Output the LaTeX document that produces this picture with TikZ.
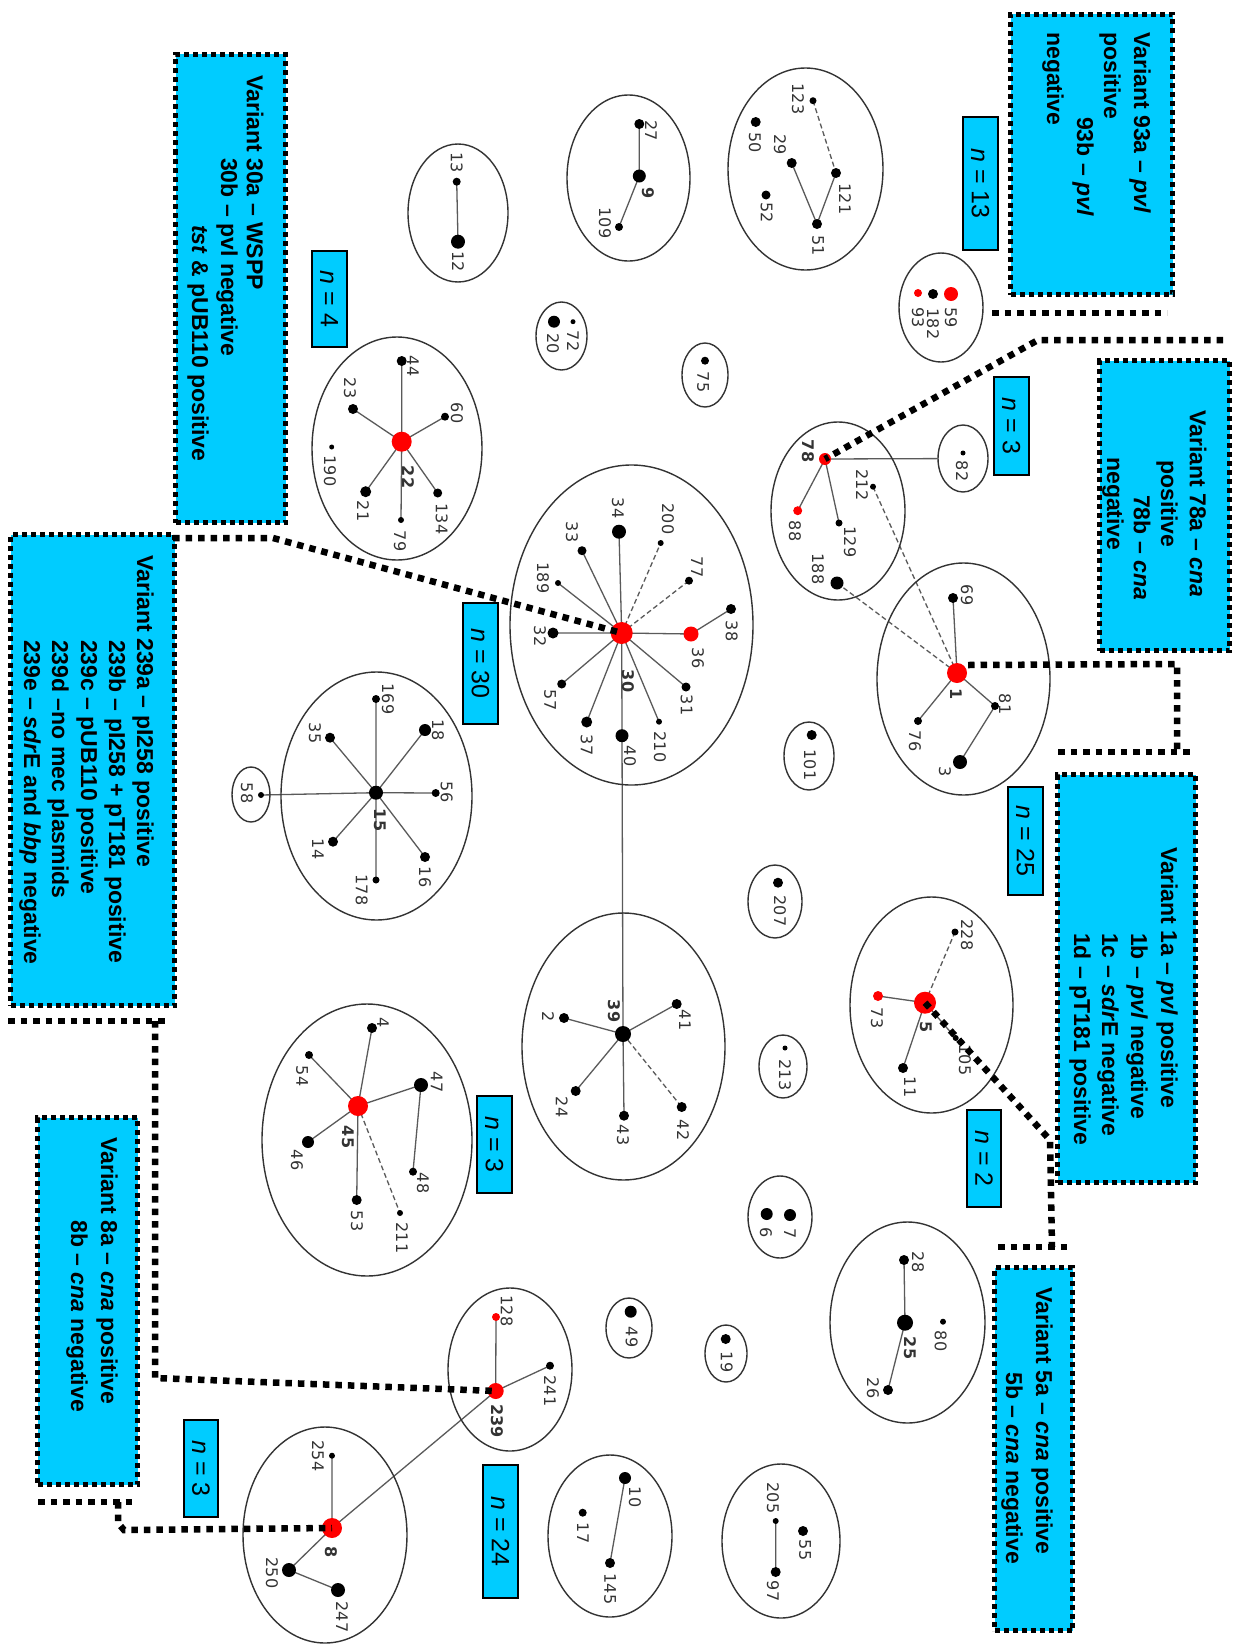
\documentclass[tikz,border=0pt]{standalone}
\usepackage{fontspec}
\setmainfont{Liberation Sans}
\newfontfamily\labfont{DejaVu Sans}
\usetikzlibrary{shapes.geometric}
\pgfdeclarelayer{bglayer}
\pgfdeclarelayer{edgelayer}
\pgfsetlayers{bglayer,edgelayer,main}
\definecolor{cyanbox}{RGB}{0,204,255}
\definecolor{rednode}{RGB}{255,0,0}
\definecolor{edgegray}{RGB}{90,90,90}
\newcommand\V[8]{\node[dot,minimum size=#4pt,fill=#5] (v#1) at (#2,#3) {};\node[lab] (l#1) at (#6,#7) {#8};}
\newcommand\Ell[5]{\node[ell,minimum width=2*#4pt,minimum height=2*#5pt] (e#1) at (#2,#3) {};}
\begin{document}
\begin{tikzpicture}[x=1pt,y=-1pt,
  ell/.style={ellipse, draw=black!80, line width=1.4pt, inner sep=0pt},
  dot/.style={circle, inner sep=0pt},
  lab/.style={rotate=-90, inner sep=0pt, font=\labfont\fontsize{16}{16}\selectfont, text=black!80},
  edge/.style={draw=edgegray, line width=1.3pt},
  dedge/.style={edge, dash pattern=on 5pt off 3pt},
  vbox/.style={fill=cyanbox, draw=black, line width=5pt, dash pattern=on 5pt off 4pt, inner sep=0pt, anchor=north west},
  nbox/.style={fill=cyanbox, draw=black, line width=1.5pt, inner sep=0pt, rotate=-90, font=\fontsize{25}{25}\selectfont},
  vtxt/.style={rotate=-90, anchor=west, inner sep=0pt, font=\bfseries\fontsize{23}{23}\selectfont},
  link/.style={draw=black, line width=6.5pt, dash pattern=on 6.5pt off 6pt},
]
\begin{pgfonlayer}{bglayer}
\fill[white] (0,0) rectangle (1243,1646);
\end{pgfonlayer}
\useasboundingbox (0,0) rectangle (1243,1646);

% ---------- ellipses ----------
\Ell{12}{458}{213}{50}{69}
\Ell{9}{628.5}{178}{61.5}{83}
\Ell{51}{805.5}{169}{77.5}{101}
\Ell{20}{561.5}{336}{25.5}{34}
\Ell{75}{705}{375}{23}{32}
\Ell{59}{941}{307.5}{42}{54.5}
\Ell{22}{397}{448.5}{85}{111.5}
\Ell{30}{631.5}{625}{121.5}{160}
\Ell{78}{838}{511}{67}{89}
\Ell{82}{963}{458.5}{25}{33.5}
\Ell{1}{963.5}{679}{86.5}{116}
\Ell{101}{809}{756}{25}{34}
\Ell{15}{376.5}{796}{95.5}{124}
\Ell{58}{251}{794.5}{19}{27.5}
\Ell{39}{623.5}{1046.5}{101.5}{133.5}
\Ell{207}{775}{901.5}{27}{36.5}
\Ell{213}{783}{1066.5}{24}{31.5}
\Ell{67}{780}{1217}{32}{41}
\Ell{5}{931.5}{1005}{81.5}{108}
\Ell{45}{367}{1140}{105}{136}
\Ell{25}{907.5}{1322.5}{77.5}{100.5}
\Ell{239}{510}{1369.5}{62}{81.5}
\Ell{49}{629}{1328}{23}{30}
\Ell{19}{726}{1353.5}{21}{28.5}
\Ell{10}{610}{1536}{62}{81}
\Ell{205}{781}{1541}{59}{77}
\Ell{8}{325}{1535}{82}{108}

% ---------- vertices ----------
\V{13}{456.7}{181.7}{8}{black}{456.7}{163}{13}
\V{12}{458}{241.7}{14}{black}{458}{262}{12}
\V{27}{639.3}{124}{10}{black}{651}{131}{27}
\V{9}{639.3}{176}{13}{black}{648}{193}{\textbf{9}}
\V{109}{619}{227}{8}{black}{605}{223}{109}
\V{123}{813}{100.7}{7}{black}{798}{99}{123}
\V{50}{755.7}{122}{10}{black}{755}{143}{50}
\V{29}{791.7}{163}{10}{black}{780}{145}{29}
\V{52}{766}{195}{9}{black}{766.7}{213}{52}
\V{51}{817}{224}{10}{black}{818}{246}{51}
\V{121}{836}{173}{10}{black}{845}{199}{121}
\V{20}{554}{321.7}{12}{black}{553}{344}{20}
\V{72}{573}{321.7}{5}{black}{573}{341}{72}
\V{75}{705}{360.7}{8}{black}{703}{382}{75}
\V{59}{951}{294}{14}{rednode}{951}{318}{59}
\V{182}{933}{294}{10}{black}{933}{324}{182}
\V{93}{918}{293}{8}{rednode}{918}{318}{93}
% cluster 22
\V{22}{401.7}{441.7}{20}{rednode}{408}{477}{\textbf{22}}
\V{44}{401.7}{361}{10}{black}{413}{366}{44}
\V{23}{353}{409}{10}{black}{350}{388}{23}
\V{60}{445}{416.7}{8}{black}{457}{413}{60}
\V{190}{331.7}{447}{5}{black}{330}{471}{190}
\V{21}{365.7}{491.7}{11}{black}{363}{511}{21}
\V{79}{401}{520}{6}{black}{400}{541}{79}
\V{134}{437.7}{493}{9}{black}{441.7}{519}{134}
% cluster 30
\V{30}{621.7}{633}{22}{rednode}{628}{681}{\textbf{30}}
\V{34}{619}{531.7}{14}{black}{618}{508}{34}
\V{200}{660.7}{543}{6}{black}{668}{519}{200}
\V{77}{689}{580.7}{8}{black}{697}{567}{77}
\V{38}{731}{609}{10}{black}{731.7}{631}{38}
\V{36}{691}{634}{15}{rednode}{698}{658}{36}
\V{31}{686}{687}{9}{black}{686.7}{705}{31}
\V{210}{659}{721.7}{6}{black}{660}{747}{210}
\V{40}{622}{735.7}{13}{black}{630}{756}{40}
\V{37}{586.7}{722}{11}{black}{586.7}{745}{37}
\V{57}{561.7}{684}{9}{black}{550}{700}{57}
\V{32}{553}{633}{11}{black}{540}{636}{32}
\V{189}{558}{583}{6}{black}{543}{578}{189}
\V{33}{582}{550.7}{9}{black}{572}{532}{33}
% cluster 78
\V{78}{825}{459}{12}{rednode}{808}{451}{\textbf{78}}
\V{88}{797.7}{510.7}{9}{rednode}{795}{531}{88}
\V{212}{873}{486.7}{6}{black}{862}{485}{212}
\V{129}{839}{523}{7}{black}{850}{542}{129}
\V{188}{837}{583}{13}{black}{818}{569}{188}
\V{82}{963}{453}{5}{black}{962}{471}{82}
% cluster 1
\V{1}{957}{673}{20}{rednode}{956}{694}{\textbf{1}}
\V{69}{953}{598}{10}{black}{967}{595}{69}
\V{81}{995}{706}{8}{black}{1005}{704}{81}
\V{76}{918}{721}{8}{black}{915}{741}{76}
\V{3}{960}{762}{14}{black}{945}{772}{3}
\V{101}{811.7}{735}{10}{black}{810}{765}{101}
% cluster 15
\V{15}{376}{792.7}{14}{black}{380}{820}{\textbf{15}}
\V{169}{376}{699}{8}{black}{388}{699}{169}
\V{35}{330}{737.7}{10}{black}{315}{733}{35}
\V{58}{261}{795}{6}{black}{247}{793}{58}
\V{18}{425}{730}{12}{black}{438}{730}{18}
\V{56}{435.7}{793}{8}{black}{446.7}{792}{56}
\V{16}{425}{857}{10}{black}{425}{877}{16}
\V{178}{376}{880}{7}{black}{361.7}{890}{178}
\V{14}{333}{841.7}{10}{black}{318}{849}{14}
% cluster 39
\V{39}{623}{1034}{16}{black}{614}{1011}{\textbf{39}}
\V{41}{676.7}{1004}{10}{black}{685}{1020}{41}
\V{2}{564}{1018}{10}{black}{548}{1017}{2}
\V{24}{575.7}{1091}{10}{black}{561.7}{1107}{24}
\V{43}{624}{1115.7}{10}{black}{623}{1135}{43}
\V{42}{681.7}{1107}{10}{black}{683}{1130}{42}
\V{207}{778}{882.7}{10}{black}{780}{911}{207}
\V{213}{785}{1048}{5}{black}{785}{1075}{213}
\V{7}{790}{1215}{12}{black}{790}{1234}{7}
\V{6}{766.7}{1214}{12}{black}{766}{1233}{6}
% cluster 5
\V{5}{925}{1002.7}{22}{rednode}{926}{1027}{\textbf{5}}
\V{228}{955}{932}{7}{black}{967}{935}{228}
\V{73}{878}{996}{10}{rednode}{877}{1018}{73}
\V{105}{955.7}{1038}{6}{black}{965}{1060}{105}
\V{11}{903}{1068}{10}{black}{910}{1087}{11}
% cluster 45
\V{45}{358}{1106}{20}{rednode}{348}{1137}{\textbf{45}}
\V{4}{372}{1028}{10}{black}{383}{1023}{4}
\V{54}{309}{1055}{8}{black}{302}{1076}{54}
\V{46}{308}{1142}{12}{black}{297}{1160}{46}
\V{47}{421}{1085}{14}{black}{436.7}{1082}{47}
\V{48}{413}{1171.7}{8}{black}{423}{1183}{48}
\V{53}{356.7}{1200}{10}{black}{357}{1221}{53}
\V{211}{400}{1213}{6}{black}{402}{1238}{211}
% cluster 25
\V{28}{904}{1260}{10}{black}{918}{1262}{28}
\V{25}{905}{1322.7}{16}{black}{910}{1348}{\textbf{25}}
\V{26}{888}{1390}{10}{black}{873}{1388}{26}
\V{80}{943}{1321.7}{6}{black}{940.7}{1341}{80}
% cluster 239
\V{239}{495.7}{1391}{16}{rednode}{497}{1421}{\textbf{239}}
\V{128}{496}{1317}{8}{rednode}{506.7}{1311}{128}
\V{241}{550}{1365.7}{8}{black}{550}{1391}{241}
\V{49}{630.7}{1311.7}{12}{black}{631.7}{1337}{49}
\V{19}{725.7}{1339}{10}{black}{726.7}{1362}{19}
% cluster 10
\V{10}{625}{1478}{12}{black}{635}{1497}{10}
\V{17}{582.7}{1512.7}{8}{black}{583}{1533}{17}
\V{145}{610}{1563}{10}{black}{610}{1589}{145}
% cluster 205
\V{205}{775.7}{1521}{6}{black}{773}{1498}{205}
\V{55}{803}{1531}{10}{black}{805}{1550}{55}
\V{97}{775.7}{1572}{10}{black}{773}{1591}{97}
% cluster 8
\V{8}{332}{1528}{20}{rednode}{331}{1552}{\textbf{8}}
\V{254}{332}{1455.7}{6}{black}{318}{1456}{254}
\V{250}{289}{1570}{14}{black}{272}{1573}{250}
\V{247}{338}{1590}{14}{black}{342}{1617}{247}

% ---------- edges ----------
\begin{pgfonlayer}{edgelayer}
\path[edge] (v13.center) -- (v12.center) (v27.center) -- (v9.center) (v9.center) -- (v109.center) (v121.center) -- (v51.center) (v51.center) -- (v29.center);
\path[dedge] (v123.center) -- (v121.center);
\path[edge] (v22.center) -- (v44.center) (v22.center) -- (v23.center) (v22.center) -- (v60.center) (v22.center) -- (v21.center) (v22.center) -- (v79.center) (v22.center) -- (v134.center);
\path[edge] (v30.center) -- (v34.center) (v30.center) -- (v33.center) (v30.center) -- (v189.center) (v30.center) -- (v32.center) (v30.center) -- (v57.center) (v30.center) -- (v37.center)
  (v30.center) -- (v40.center) (v30.center) -- (v210.center) (v30.center) -- (v31.center) (v30.center) -- (v36.center) (v36.center) -- (v38.center) (v40.center) -- (v39.center);
\path[dedge] (v30.center) -- (v200.center) (v30.center) -- (v77.center);
\path[edge] (v78.center) -- (v88.center) (v78.center) -- (v129.center) (v78.center) -- (e82);
\path[dedge] (v212.center) -- (v1.center) (v188.center) -- (v1.center);
\path[edge] (v1.center) -- (v69.center) (v1.center) -- (v81.center) (v1.center) -- (v76.center) (v81.center) -- (v3.center);
\path[edge] (v15.center) -- (v169.center) (v15.center) -- (v35.center) (v15.center) -- (v58.center) (v15.center) -- (v18.center) (v15.center) -- (v56.center) (v15.center) -- (v16.center) (v15.center) -- (v178.center) (v15.center) -- (v14.center);
\path[edge] (v39.center) -- (v41.center) (v39.center) -- (v2.center) (v39.center) -- (v24.center) (v39.center) -- (v43.center);
\path[dedge] (v39.center) -- (v42.center);
\path[edge] (v5.center) -- (v73.center) (v5.center) -- (v105.center) (v5.center) -- (v11.center);
\path[dedge] (v5.center) -- (v228.center);
\path[edge] (v45.center) -- (v4.center) (v45.center) -- (v54.center) (v45.center) -- (v46.center) (v45.center) -- (v47.center) (v45.center) -- (v53.center) (v47.center) -- (v48.center);
\path[dedge] (v45.center) -- (v211.center);
\path[edge] (v28.center) -- (v25.center) (v25.center) -- (v26.center);
\path[edge] (v239.center) -- (v128.center) (v239.center) -- (v241.center) (v239.center) -- (v8.center);
\path[edge] (v10.center) -- (v145.center) (v205.center) -- (v97.center);
\path[edge] (v8.center) -- (v254.center) (v8.center) -- (v250.center) (v250.center) -- (v247.center);
\end{pgfonlayer}

% ---------- variant boxes ----------
\node[vbox, minimum width=110pt, minimum height=468pt] (bA) at (173,52) {};
\node[vtxt] (tA1) at (255,75) {Variant 30a – WSPP};
\node[vtxt] (tA2) at (227,158) {30b – pvl negative};
\node[vtxt] (tA3) at (198,225) {\textit{tst} \& pUB110 positive};

\node[vbox, minimum width=162pt, minimum height=280pt] (b93) at (1008,12) {};
\node[vtxt] (t931) at (1140,32) {Variant 93a – \textit{pvl}};
\node[vtxt] (t932) at (1110,32) {positive};
\node[vtxt] (t933) at (1083,117) {93b – \textit{pvl}};
\node[vtxt] (t934) at (1053,32) {negative};

\node[vbox, minimum width=130pt, minimum height=290pt] (b78) at (1097,358) {};
\node[vtxt] (t781) at (1198,410) {Variant 78a – \textit{cna}};
\node[vtxt] (t782) at (1167,460) {positive};
\node[vtxt] (t783) at (1142,495) {78b – \textit{cna}};
\node[vtxt] (t784) at (1113,457) {negative};

\node[vbox, minimum width=138pt, minimum height=408pt] (b1) at (1055,772) {};
\node[vtxt] (t11) at (1167,847) {Variant 1a – \textit{pvl} positive};
\node[vtxt] (t12) at (1137,933) {1b – \textit{pvl} negative};
\node[vtxt] (t13) at (1108,933) {1c – \textit{sdr}E negative};
\node[vtxt] (t14) at (1080,933) {1d – pT181 positive};

\node[vbox, minimum width=78pt, minimum height=363pt] (b5) at (992,1265) {};
\node[vtxt] (t51) at (1042,1287) {Variant 5a – \textit{cna} positive};
\node[vtxt] (t52) at (1012,1372) {5b – \textit{cna} negative};

\node[vbox, minimum width=164pt, minimum height=471pt] (b239) at (8,532) {};
\node[vtxt] (t2391) at (143,555) {Variant 239a – pI258 positive};
\node[vtxt] (t2392) at (115,640) {239b – pI258 + pT181 positive};
\node[vtxt] (t2393) at (87,640) {239c – pUB110 positive};
\node[vtxt] (t2394) at (58,640) {239d –no mec plasmids};
\node[vtxt] (t2395) at (30,640) {239e – \textit{sdr}E and \textit{bbp} negative};

\node[vbox, minimum width=100pt, minimum height=367pt] (b8) at (35,1115) {};
\node[vtxt] (t81) at (107,1137) {Variant 8a – \textit{cna} positive};
\node[vtxt] (t82) at (77,1220) {8b – \textit{cna} negative};

% ---------- n boxes ----------
\node[nbox, minimum width=133pt, minimum height=35pt] (n13) at (980.5,183.5) {\textit{n} = 13};
\node[nbox, minimum width=96pt, minimum height=35pt] (n4) at (329.5,299) {\textit{n} = 4};
\node[nbox, minimum width=98pt, minimum height=35pt] (n3a) at (1011.5,426) {\textit{n} = 3};
\node[nbox, minimum width=121pt, minimum height=35pt] (n30) at (480.5,663.5) {\textit{n} = 30};
\node[nbox, minimum width=108pt, minimum height=35pt] (n25) at (1025.5,841) {\textit{n} = 25};
\node[nbox, minimum width=97pt, minimum height=34pt] (n2) at (984,1158.5) {\textit{n} = 2};
\node[nbox, minimum width=97pt, minimum height=35pt] (n3b) at (494.5,1144.5) {\textit{n} = 3};
\node[nbox, minimum width=133pt, minimum height=35pt] (n24) at (500.5,1531.5) {\textit{n} = 24};
\node[nbox, minimum width=97pt, minimum height=34pt] (n3c) at (201,1468.5) {\textit{n} = 3};

% ---------- dotted links ----------
\coordinate (c93a) at (992,313);
\coordinate (c93b) at (1167,313);
\draw[link] (c93a) -- (c93b);

\coordinate (c78a) at (1223,340);
\coordinate (c78b) at (1038,340);
\draw[link] (c78a) -- (c78b) -- (v78.center);

\coordinate (c1s) at (968,665);
\coordinate (c1a) at (1177,664);
\coordinate (c1b) at (1177,752);
\coordinate (c1c) at (1058,752);
\coordinate (c1d) at (1192,752);
\draw[link] (c1s) -- (c1a) -- (c1b);
\draw[link] (c1c) -- (c1d);

\coordinate (c5a) at (1050,1140);
\coordinate (c5b) at (1052,1247);
\coordinate (c5c) at (998,1247);
\coordinate (c5d) at (1067,1247);
\draw[link] (v5.center) -- (c5a) -- (c5b);
\draw[link] (c5c) -- (c5d);

\coordinate (cAa) at (173,538);
\coordinate (cAb) at (273,538);
\draw[link] (cAa) -- (cAb) -- (v30.center);

\coordinate (c239a) at (8,1021);
\coordinate (c239b) at (170,1021);
\coordinate (c239c) at (155,1021);
\coordinate (c239d) at (155,1378);
\draw[link] (c239a) -- (c239b);
\draw[link] (c239c) -- (c239d) -- (v239.center);

\coordinate (c8a) at (38,1502);
\coordinate (c8b) at (133,1502);
\coordinate (c8c) at (118,1502);
\coordinate (c8d) at (118,1523);
\coordinate (c8e) at (124,1530);
\draw[link] (c8a) -- (c8b);
\draw[link] (c8c) -- (c8d) -- (c8e) -- (v8.center);
\end{tikzpicture}
\end{document}
